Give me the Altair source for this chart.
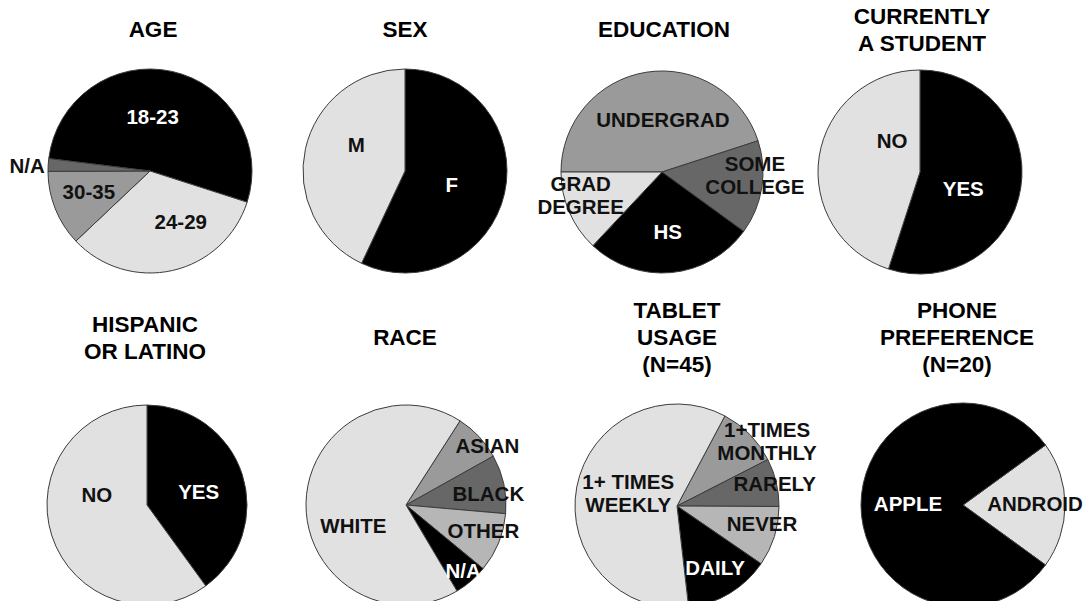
import math
import altair as alt
import pandas as pd

# ---------------- data (percent shares) ----------------
titles = ["AGE", "SEX", "EDUCATION", "CURRENTLY\nA STUDENT",
          "HISPANIC\nOR LATINO", "RACE", "TABLET\nUSAGE\n(N=45)", "PHONE\nPREFERENCE\n(N=20)"]

age_cats = ["18-23", "24-29", "30-35", "N/A"]
age_vals = [53, 33, 12, 2]

sex_cats = ["F", "M"]
sex_vals = [57, 43]

edu_cats = ["UNDERGRAD", "SOME\nCOLLEGE", "HS", "GRAD\nDEGREE"]
edu_vals = [45, 15, 27, 13]

stu_cats = ["YES", "NO"]
stu_vals = [55, 45]

his_cats = ["YES", "NO"]
his_vals = [40, 60]

race_cats = ["ASIAN", "BLACK", "OTHER", "N/A", "WHITE"]
race_vals = [7.8, 9.5, 9.6, 5.5, 67.6]

tab_cats = ["1+TIMES\nMONTHLY", "RARELY", "NEVER", "DAILY", "1+ TIMES\nWEEKLY"]
tab_vals = [9.7, 7.6, 9.5, 13.6, 59.6]

phone_cats = ["ANDROID", "APPLE"]
phone_vals = [20, 80]

# ---------------- styles ----------------
BLACK, LIGHT, MID, DARK, PALE = "#000000", "#e1e1e1", "#9a9a9a", "#676767", "#b6b6b6"
fills = [
    [BLACK, LIGHT, MID, DARK],
    [BLACK, LIGHT],
    [MID, DARK, BLACK, LIGHT],
    [BLACK, LIGHT],
    [BLACK, LIGHT],
    [MID, DARK, PALE, BLACK, LIGHT],
    [MID, DARK, PALE, BLACK, LIGHT],
    [LIGHT, BLACK],
]

# ---------------- layout (chart coordinates) ----------------
centers = [(142, 163), (397, 163), (654, 164), (912, 164),
           (139, 497), (398, 497), (669, 498), (955, 497)]
radii = [102, 102, 101, 102, 100, 100, 102, 102]
start_deg = [277, 0, 270, 0, 0, 32.7, 28, 54]
# label placement: (radius px, angle offset deg from slice middle)
label_pos = [
    [(53, -9.5), (60, -18), (65, 2), (123, -1.5)],
    [(49, 5), (55, 15)],
    [(51, 10), (93, -6.5), (61, 0), (85, 6.5)],
    [(47, 14), (41, 38)],
    [(53, 5), (51, 28)],
    [(100, 7.7), (83, 5), (82, -3), (88, 0), (57, -23.5)],
    [(110, 9.5), (100, 1), (87, -5), (74, 0), (50, 2)],
    [(72, 0), (55, 0)],
]
title_xy = [(145, 22), (397, 22), (656, 22), (914, 22),
            (137, 330), (397, 330), (669, 330), (949, 330)]

FONT = "Liberation Sans"
LBL_LH = 23
TTL_LH = 27
cats_all = [age_cats, sex_cats, edu_cats, stu_cats, his_cats, race_cats, tab_cats, phone_cats]
vals_all = [age_vals, sex_vals, edu_vals, stu_vals, his_vals, race_vals, tab_vals, phone_vals]

layers = []
for k in range(8):
    cx, cy = centers[k]
    r = radii[k]
    s = math.radians(start_deg[k])
    df = pd.DataFrame({
        "label": cats_all[k],
        "v": vals_all[k],
        "i": list(range(len(cats_all[k]))),
        "fill": fills[k],
        "tc": ["#ffffff" if f == BLACK else "#111111" for f in fills[k]],
        "lr": [p[0] for p in label_pos[k]],
        "off": [p[1] for p in label_pos[k]],
    })
    arc = alt.Chart(df).mark_arc(radius=r, stroke="#3c3c3c", strokeWidth=1).encode(
        theta=alt.Theta("v:Q", stack=True, scale=alt.Scale(range=[s, s + 2 * math.pi])),
        order=alt.Order("i:Q"),
        fill=alt.Fill("fill:N", scale=None),
        x=alt.value(cx),
        y=alt.value(cy),
    )
    txt = alt.Chart(df).transform_joinaggregate(
        total="sum(v)"
    ).transform_window(
        cum="sum(v)", sort=[alt.SortField("i")], frame=[None, 0]
    ).transform_calculate(
        la=f"{s} + 2*PI*(datum.cum - datum.v/2)/datum.total + datum.off*PI/180",
        nl="length(split(datum.label, '\\n'))",
    ).transform_calculate(
        lx=f"{cx} + datum.lr*sin(datum.la)",
        ly=f"{cy} - datum.lr*cos(datum.la) - (datum.nl - 1)*{LBL_LH}/2",
    ).mark_text(
        font=FONT, fontWeight="bold", fontSize=20.5, lineBreak="\n",
        lineHeight=LBL_LH, align="center", baseline="middle",
    ).encode(
        x=alt.X("lx:Q", scale=None, axis=None),
        y=alt.Y("ly:Q", scale=None, axis=None),
        text="label:N",
        color=alt.Color("tc:N", scale=None),
    )
    n_lines = titles[k].count("\n") + 1
    ttl = alt.Chart(pd.DataFrame({"t": [titles[k]]})).mark_text(
        font=FONT, fontWeight="bold", fontSize=22.5, lineBreak="\n",
        lineHeight=TTL_LH, align="center", baseline="middle", color="#000000",
    ).encode(
        x=alt.value(title_xy[k][0]),
        y=alt.value(title_xy[k][1] - (n_lines - 1) * TTL_LH / 2),
        text="t:N",
    )
    layers += [arc, txt, ttl]

chart = alt.layer(*layers).resolve_scale(theta="independent").properties(
    width=1075, height=593, padding=0,
    autosize=alt.AutoSizeParams(type="none"),
).configure(
    background="#ffffff", view=alt.ViewConfig(stroke=None)
)

chart.save("out.html", embed_options={"renderer": "svg", "actions": False})
